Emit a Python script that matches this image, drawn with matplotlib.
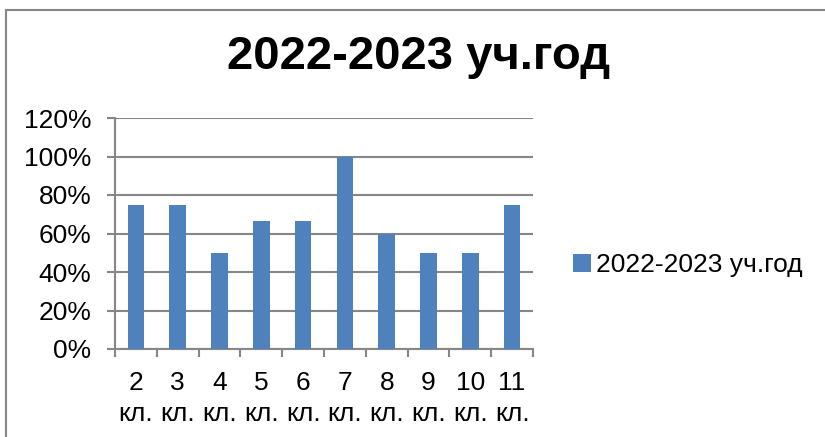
import matplotlib
matplotlib.use("Agg")
import matplotlib.pyplot as plt
from matplotlib.lines import Line2D
from matplotlib.patches import Patch

plt.rcParams['font.family'] = ['Liberation Sans', 'DejaVu Sans']

categories = ["2\nкл.", "3\nкл.", "4\nкл.", "5\nкл.", "6\nкл.", "7\nкл.", "8\nкл.", "9\nкл.", "10\nкл.", "11\nкл."]
values = [75, 75, 50, 66.7, 66.7, 100, 60, 50, 50, 75]
yticks = [0, 20, 40, 60, 80, 100, 120]
ytick_labels = ["0%", "20%", "40%", "60%", "80%", "100%", "120%"]
series_name = "2022-2023 уч.год"
title = "2022-2023 уч.год"

W, H = 825, 437
fig = plt.figure(figsize=(W / 100, H / 100), dpi=100)
grey = "#868686"
bar_color = "#4F81BD"

ax = fig.add_axes([115 / W, 1 - 349 / H, (533 - 115) / W, (349 - 118) / H])
x = list(range(len(categories)))
ax.bar(x, values, width=0.4, color=bar_color, zorder=3)
ax.set_xlim(-0.5, len(categories) - 0.5)
ax.set_ylim(0, 120)
ax.set_yticks(yticks)
ax.set_yticklabels(ytick_labels, fontsize=19)
ax.set_xticks(x)
ax.set_xticklabels(categories, fontsize=19, linespacing=1.35)
ax.set_xticks([i - 0.5 for i in range(len(categories) + 1)], minor=True)
ax.tick_params(axis='x', which='major', length=0, pad=16)
ax.tick_params(axis='x', which='minor', length=6, color=grey, width=1.5, direction='out')
ax.tick_params(axis='y', length=6, color=grey, width=1.5, direction='out', pad=11)
ax.grid(axis='y', color=grey, linewidth=1.5, zorder=0)
for s in ['top', 'right']:
    ax.spines[s].set_visible(False)
for s in ['left', 'bottom']:
    ax.spines[s].set_color(grey)
    ax.spines[s].set_linewidth(1.5)

fig.text(419 / W, 1 - 57 / H, title, fontsize=34, fontweight='bold', ha='center', va='center')

handle = Patch(facecolor=bar_color, edgecolor='none')
fig.legend([handle], [series_name], loc='center left', bbox_to_anchor=(549 / W, 1 - 265 / H),
           frameon=False, fontsize=19, handlelength=0.7, handleheight=0.7, handletextpad=0.2)

# figure border (top and left)
fig.add_artist(Line2D([6 / W, 1], [1 - 9.5 / H, 1 - 9.5 / H], color=grey, linewidth=1.5, transform=fig.transFigure))
fig.add_artist(Line2D([6 / W, 6 / W], [0, 1 - 9.5 / H], color=grey, linewidth=1.5, transform=fig.transFigure))

fig.savefig("out.png", dpi=100)
